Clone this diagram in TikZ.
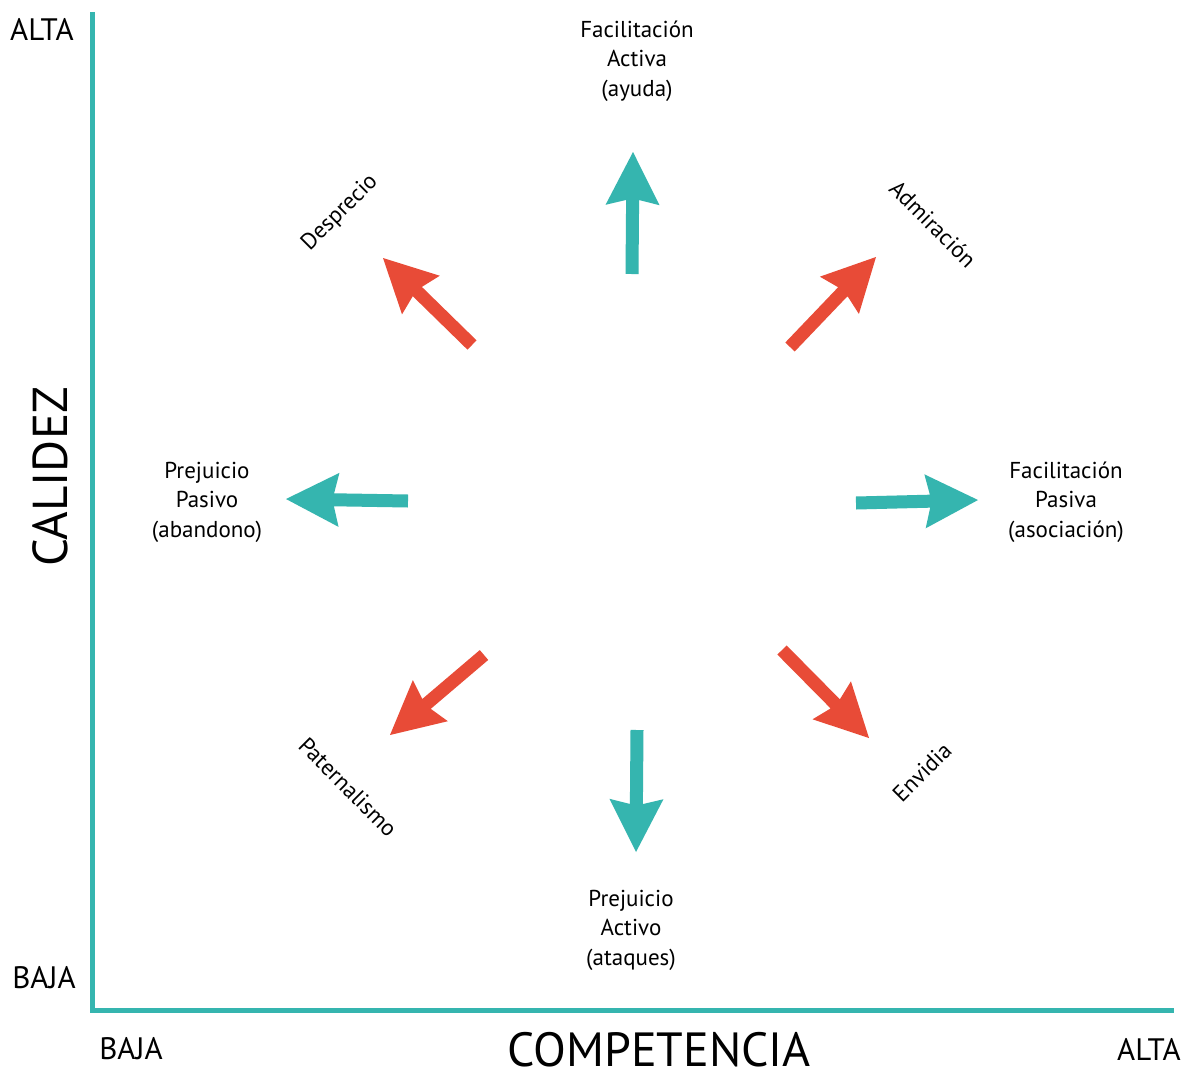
\documentclass[tikz,border=0pt]{standalone}
\usepackage{fontspec}
\setmainfont{PT Sans}
\usetikzlibrary{calc}
\definecolor{teal1}{HTML}{35B5AF}
\definecolor{red1}{HTML}{E84B37}
\newcommand{\fatarrow}[3]{%
  \fill[#1] ($(#2)!6.5pt!-90:(#3)$) -- ($($(#3)!48pt!(#2)$)!6.5pt!-90:(#3)$)
    -- ($($(#3)!53pt!(#2)$)!27pt!-90:(#3)$) -- (#3)
    -- ($($(#3)!53pt!(#2)$)!27pt!90:(#3)$) -- ($($(#3)!48pt!(#2)$)!6.5pt!90:(#3)$)
    -- ($(#2)!6.5pt!90:(#3)$) -- cycle;}
\begin{document}
\begin{tikzpicture}[x=1pt,y=-1pt,
  lab/.style={align=center,font=\fontsize{23}{29.5}\selectfont,inner sep=0pt},
  rlab/.style={font=\fontsize{23}{25}\selectfont,inner sep=0pt},
  axlab/.style={font=\fontsize{31}{33}\selectfont,inner sep=0pt}]
\useasboundingbox (0,0) rectangle (1186,1071);
\fill[white] (0,0) rectangle (1186,1071);
% axes
\coordinate (top) at (92,12);
\coordinate (orig) at (92,1010);
\coordinate (right) at (1174,1010);
\draw[teal1,line width=5pt] (top) -- (orig) -- (right);
% axis labels
\node[axlab] (altaY) at (42,29) {ALTA};
\node[axlab] (bajaY) at (44,978) {BAJA};
\node[axlab] (bajaX) at (131,1049) {BAJA};
\node[axlab] (altaX) at (1149,1049) {ALTA};
\node[font=\fontsize{49}{49}\selectfont,inner sep=0pt,rotate=90] (cal) at (50,477) {CALIDEZ};
\node[font=\fontsize{48}{48}\selectfont,inner sep=0pt] (comp) at (659,1050) {COMPETENCIA};
% labels
\node[lab] (fa) at (637,61) {Facilitación\\Activa\\(ayuda)};
\node[lab] (pp) at (207,502) {Prejuicio\\Pasivo\\(abandono)};
\node[lab] (fp) at (1066,502) {Facilitación\\Pasiva\\(asociación)};
\node[lab] (pa) at (631,930) {Prejuicio\\Activo\\(ataques)};
\node[rlab,rotate=45] (des) at (340,213) {Desprecio};
\node[rlab,rotate=-45] (adm) at (933,224) {Admiración};
\node[rlab,rotate=-45] (pat) at (348,787) {Paternalismo};
\node[rlab,rotate=45] (env) at (922,772) {Envidia};
% arrows
\coordinate (t1) at (632,274); \coordinate (h1) at (633,152);
\coordinate (t2) at (472,345); \coordinate (h2) at (383,258);
\coordinate (t3) at (790,347); \coordinate (h3) at (876,257);
\coordinate (t4) at (408,501); \coordinate (h4) at (286,499);
\coordinate (t5) at (856,503); \coordinate (h5) at (978,500);
\coordinate (t6) at (484,655); \coordinate (h6) at (390,735);
\coordinate (t7) at (782,650); \coordinate (h7) at (869,738);
\coordinate (t8) at (637,730); \coordinate (h8) at (636,852);
\fatarrow{teal1}{t1}{h1}
\fatarrow{red1}{t2}{h2}
\fatarrow{red1}{t3}{h3}
\fatarrow{teal1}{t4}{h4}
\fatarrow{teal1}{t5}{h5}
\fatarrow{red1}{t6}{h6}
\fatarrow{red1}{t7}{h7}
\fatarrow{teal1}{t8}{h8}
\end{tikzpicture}
\end{document}
